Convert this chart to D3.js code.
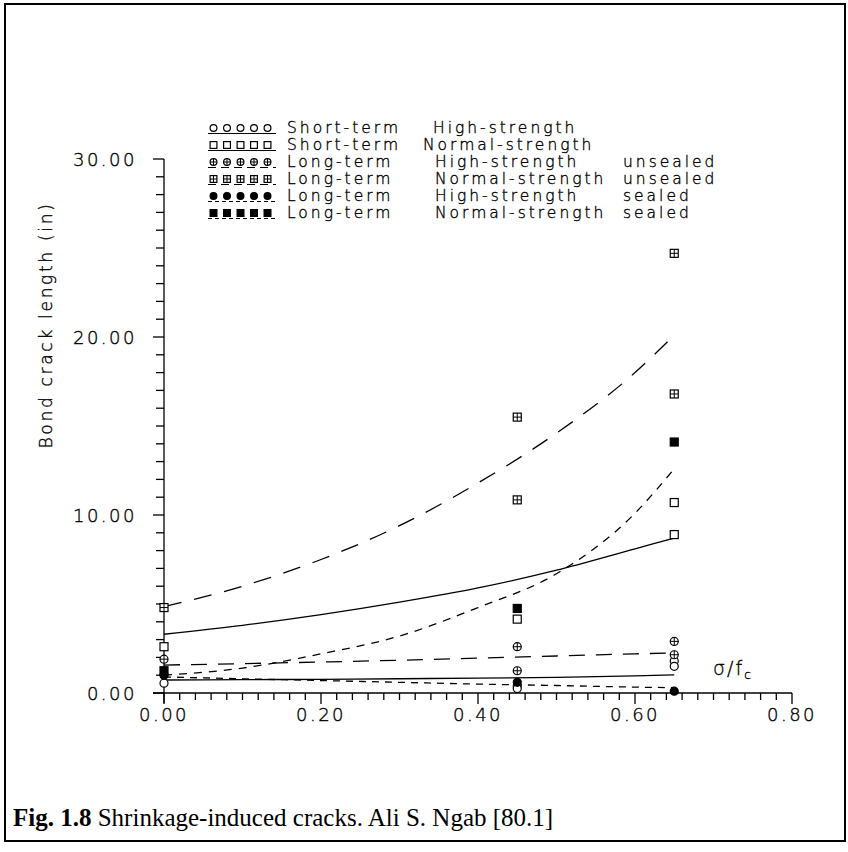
<html lang="en">
<head>
<script src="https://d3js.org/d3.v7.min.js"></script>
<style>
  body { margin: 0; background: #fff; }
  .hershey { font-family: 'DejaVu Sans', sans-serif; font-weight: 200; stroke: #000; stroke-width: 0.35; }
  .caption { font-family: 'Liberation Serif', 'Times New Roman', serif; }
</style>
</head>
<body>
<script>
// legend text
var legendTerm = ["Short-term", "Short-term", "Long-term", "Long-term", "Long-term", "Long-term"];
var legendStrength = ["High-strength", "Normal-strength", "High-strength", "Normal-strength", "High-strength", "Normal-strength"];
var legendSeal = ["", "", "unsealed", "unsealed", "sealed", "sealed"];

// measured points [sigma/fc, crack length]
var stHighPts = [[0, 0.55], [0.45, 0.4], [0.45, 0.25], [0.65, 1.8], [0.65, 1.5]];
var stNormPts = [[0, 2.6], [0.45, 4.15], [0.65, 10.7], [0.65, 8.9]];
var ltHighUnsPts = [[0, 1.9], [0.45, 2.6], [0.45, 1.25], [0.65, 2.9], [0.65, 2.15]];
var ltNormUnsPts = [[0, 4.8], [0.45, 15.5], [0.45, 10.85], [0.65, 24.7], [0.65, 16.8]];
var ltHighSealPts = [[0, 1.0], [0.45, 0.6], [0.65, 0.1]];
var ltNormSealPts = [[0, 1.25], [0.45, 4.75], [0.65, 14.1]];

var fitX = [0, 0.1, 0.2, 0.3, 0.4, 0.5, 0.6, 0.65];
var stHighFit = [0.73, 0.75, 0.77, 0.8, 0.84, 0.88, 0.96, 1.02];
var stNormFit = [3.3, 3.8, 4.4, 5.1, 5.9, 6.9, 8.1, 8.7];
var ltHighUnsFit = [1.57, 1.65, 1.74, 1.84, 1.96, 2.08, 2.2, 2.25];
var ltNormUnsFit = [4.85, 6.0, 7.5, 9.4, 11.8, 14.6, 18.0, 20.1];
var ltHighSealFit = [0.9, 0.8, 0.7, 0.6, 0.5, 0.42, 0.33, 0.3];
var ltNormSealFit = [1.0, 1.4, 2.2, 3.2, 4.8, 6.7, 10.1, 12.6];

var yTicks = [0, 10, 20, 30];
var xTicks = [0, 0.2, 0.4, 0.6, 0.8];

var width = 848, height = 852;
var svg = d3.select("body").append("svg")
  .attr("width", width).attr("height", height);

// outer frame
svg.append("rect").attr("x", 5).attr("y", 4).attr("width", 840).attr("height", 837)
  .attr("fill", "none").attr("stroke", "#000").attr("stroke-width", 2);

var x = d3.scaleLinear().domain([0, 0.8]).range([164, 792]);
var y = d3.scaleLinear().domain([0, 30]).range([693, 159]);

// y axis: minor tick each unit, long ones each 10
var yAxis = svg.append("g").attr("transform", "translate(164,0)");
yAxis.append("line").attr("y1", y(30)).attr("y2", y(0) + 10).attr("stroke", "#000").attr("stroke-width", 1.3);
yAxis.selectAll("line.t").data(d3.range(0, 31)).enter().append("line")
  .attr("class", "t")
  .attr("x1", function(d) { return d % 10 == 0 ? -11 : -8; }).attr("x2", 0)
  .attr("y1", function(d) { return y(d); }).attr("y2", function(d) { return y(d); })
  .attr("stroke", "#000").attr("stroke-width", 1.3);
yAxis.selectAll("text").data(yTicks).enter().append("text")
  .attr("class", "hershey")
  .attr("x", -27).attr("y", function(d) { return y(d) + 7; })
  .attr("text-anchor", "end").attr("font-size", 18)
  .attr("letter-spacing", 2.5)
  .text(function(d) { return d3.format(".2f")(d); });

// x axis
var xAxis = svg.append("g").attr("transform", "translate(0," + y(0) + ")");
xAxis.append("line").attr("x1", 153).attr("x2", x(0.8)).attr("stroke", "#000").attr("stroke-width", 1.3);
xAxis.selectAll("line.t").data(d3.range(0, 41)).enter().append("line")
  .attr("class", "t")
  .attr("x1", function(d) { return x(d * 0.02); }).attr("x2", function(d) { return x(d * 0.02); })
  .attr("y1", 0).attr("y2", function(d) { return d % 10 == 0 ? 11 : 7; })
  .attr("stroke", "#000").attr("stroke-width", 1.3);
xAxis.selectAll("text").data(xTicks).enter().append("text")
  .attr("class", "hershey")
  .attr("x", function(d) { return x(d); }).attr("y", 28)
  .attr("text-anchor", "middle").attr("font-size", 18)
  .attr("letter-spacing", 2.5)
  .text(function(d) { return d3.format(".2f")(d); });

// axis titles
svg.append("text").attr("class", "hershey")
  .attr("transform", "translate(52,325) rotate(-90)")
  .attr("text-anchor", "middle").attr("font-size", 17)
  .attr("letter-spacing", 2.7)
  .text("Bond crack length (in)");
var xt = svg.append("text").attr("class", "hershey").attr("x", 713).attr("y", 675)
  .attr("font-size", 19).attr("letter-spacing", 2);
xt.append("tspan").text("σ/f");
xt.append("tspan").attr("font-size", 12).attr("dy", 4).text("c");

// symbols
function drawSymbol(g, kind, cx, cy, s) {
  if (kind == "circle" || kind == "circleCross" || kind == "circleFill") {
    g.append("circle").attr("cx", cx).attr("cy", cy).attr("r", s)
      .attr("fill", kind == "circleFill" ? "#000" : "#fff").attr("stroke", "#000").attr("stroke-width", 1.2);
  } else {
    g.append("rect").attr("x", cx - s).attr("y", cy - s).attr("width", 2 * s).attr("height", 2 * s)
      .attr("fill", kind == "squareFill" ? "#000" : "#fff").attr("stroke", "#000").attr("stroke-width", 1.2);
  }
  if (kind == "circleCross" || kind == "squareCross") {
    g.append("line").attr("x1", cx - s).attr("x2", cx + s).attr("y1", cy).attr("y2", cy).attr("stroke", "#000");
    g.append("line").attr("x1", cx).attr("x2", cx).attr("y1", cy - s).attr("y2", cy + s).attr("stroke", "#000");
  }
}

var series = [
  { pts: stHighPts, fit: stHighFit, sym: "circle", dash: null, key: null },
  { pts: stNormPts, fit: stNormFit, sym: "square", dash: null, key: null },
  { pts: ltHighUnsPts, fit: ltHighUnsFit, sym: "circleCross", dash: "16,11", key: "8,5" },
  { pts: ltNormUnsPts, fit: ltNormUnsFit, sym: "squareCross", dash: "18,13", key: "8,5" },
  { pts: ltHighSealPts, fit: ltHighSealFit, sym: "circleFill", dash: "7,6", key: "4,3" },
  { pts: ltNormSealPts, fit: ltNormSealFit, sym: "squareFill", dash: "8,7", key: "4,3" }
];

var line = d3.line()
  .x(function(d) { return x(d[0]); })
  .y(function(d) { return y(d[1]); })
  .curve(d3.curveMonotoneX);

series.forEach(function(s) {
  svg.append("path")
    .datum(fitX.map(function(v, i) { return [v, s.fit[i]]; }))
    .attr("d", line).attr("fill", "none").attr("stroke", "#000")
    .attr("stroke-width", 1.3).attr("stroke-dasharray", s.dash);
});

var marks = svg.append("g");
series.forEach(function(s) {
  s.pts.forEach(function(p) { drawSymbol(marks, s.sym, x(p[0]), y(p[1]), 4); });
});

// legend
var legend = svg.append("g");
series.forEach(function(s, i) {
  var cy = 127 + i * 17;
  for (var k = 0; k < 5; k++) drawSymbol(legend, s.sym, 213.5 + k * 13.5, cy + 1, 3.4);
  legend.append("line").attr("x1", 208).attr("x2", 276).attr("y1", cy + 6.5).attr("y2", cy + 6.5)
    .attr("stroke", "#000").attr("stroke-width", 1).attr("stroke-dasharray", s.key);
  var row = legend.append("text").attr("class", "hershey").attr("y", cy + 6).attr("font-size", 15.5)
    .attr("letter-spacing", 3);
  row.append("tspan").attr("x", 287).text(legendTerm[i]);
  row.append("tspan").attr("x", i < 2 ? (i == 0 ? 433 : 423) : 435).text(legendStrength[i]);
  row.append("tspan").attr("x", 623).text(legendSeal[i]);
});

// caption
var cap = svg.append("text").attr("class", "caption").attr("x", 13).attr("y", 826)
  .attr("font-size", 25);
cap.append("tspan").attr("font-weight", "bold").text("Fig. 1.8");
cap.append("tspan").text(" Shrinkage-induced cracks. Ali S. Ngab [80.1]");
</script>
</body>
</html>
